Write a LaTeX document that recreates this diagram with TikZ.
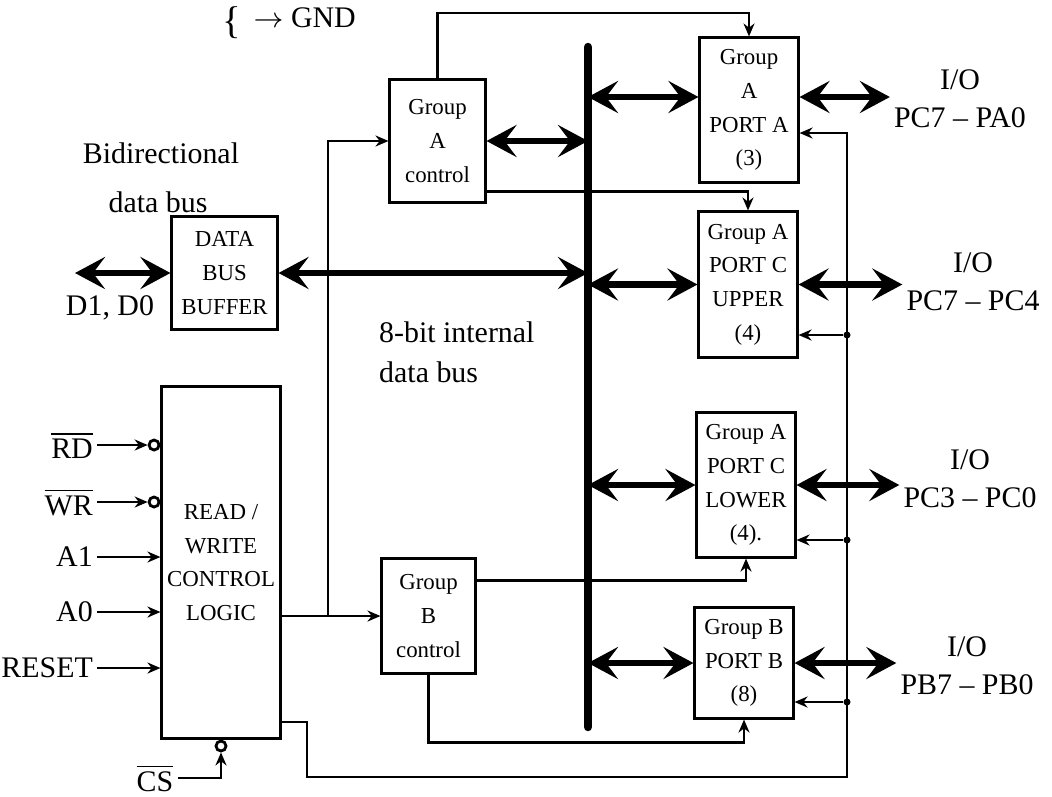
\documentclass[tikz,border=0pt]{standalone}
\usepackage{fontspec}
\setmainfont{Liberation Serif}
\usetikzlibrary{arrows.meta, positioning, calc}

\begin{document}
\begin{tikzpicture}[
    x=0.01cm, y=-0.01cm,
    every node/.style={font=\fontsize{8.5}{10.8}\selectfont},
    block/.style={rectangle, draw, line width=0.85pt, inner sep=0pt, align=center, font=\fontsize{6.5}{9.6}\selectfont},
    busarrow/.style={{Stealth[length=3mm, width=3.2mm, inset=1.2mm]}-{Stealth[length=3mm, width=3.2mm, inset=1.2mm]}, line width=1.8pt},
    arrow/.style={-{Stealth[length=1.3mm, width=1.1mm]}, line width=0.8pt},
    wire/.style={line width=0.8pt},
    bubble/.style={circle, draw, line width=0.8pt, fill=white, inner sep=0pt, minimum size=1mm},
    dot/.style={circle, fill, inner sep=0pt, minimum size=0.7mm},
    lbl/.style={inner sep=1pt, align=center}
]
\useasboundingbox (0,0) rectangle (1052,796);

\node[block, minimum width=1.05cm, minimum height=1.12cm] (dbb) at (224.5,273) {DATA\\BUS\\BUFFER};
\node[block, minimum width=1.18cm, minimum height=3.51cm] (rwcl) at (221,562.5) {READ /\\WRITE\\CONTROL\\LOGIC};
\node[block, minimum width=0.95cm, minimum height=1.22cm] (gac) at (437.5,141) {Group\\A\\control};
\node[block, minimum width=0.93cm, minimum height=1.14cm] (gbc) at (428.5,616) {Group\\B\\control};
\node[block, minimum width=0.98cm, minimum height=1.44cm] (pa) at (749,110) {Group\\A\\PORT A\\(3)};
\node[block, minimum width=0.98cm, minimum height=1.45cm] (pcu) at (748,284.5) {Group A\\PORT C\\UPPER\\(4)};
\node[block, minimum width=0.98cm, minimum height=1.44cm] (pcl) at (746,485) {Group A\\PORT C\\LOWER\\(4).};
\node[block, minimum width=0.98cm, minimum height=1.10cm] (pb) at (744,663) {Group B\\PORT B\\(8)};

\coordinate (bustop) at (588,47);
\coordinate (busbot) at (588,727);
\draw[line width=2.4pt, line cap=round] (bustop) -- (busbot);

\node[anchor=north, inner sep=0pt] (brace) at (232,6) {\fontsize{11}{11}\selectfont\{};
\node[lbl, anchor=base east] (gnd) at (360,27) {$\rightarrow$ GND};

\node[lbl] (bidir) at (161,153) {Bidirectional};
\node[lbl] (dbus) at (158,202) {data bus};
\node[lbl] (dlbl) at (110,308) {D1, D0};
\coordinate (dext) at (75,273);
\draw[busarrow] (dext) -- (dbb.west);
\draw[busarrow] (dbb.east) -- (dbb.east -| bustop);
\node[lbl, anchor=west, align=left, font=\fontsize{8.5}{11.4}\selectfont] (ibus) at (375,352) {8-bit internal\\data bus};

\node[lbl] (ioa) at (960,99) {I/O\\PC7 -- PA0};
\node[lbl] (iocu) at (973,281.5) {I/O\\PC7 -- PC4};
\node[lbl] (iocl) at (970,479) {I/O\\PC3 -- PC0};
\node[lbl] (iob) at (967,666) {I/O\\PB7 -- PB0};

\draw[busarrow] ([yshift=1.3mm]pa.west) -- ([yshift=1.3mm]pa.west -| bustop);
\draw[busarrow] ([yshift=1.3mm]pa.east) -- ([yshift=1.3mm]pa.east -| ioa.west);
\draw[busarrow] (pcu.west) -- (pcu.west -| bustop);
\draw[busarrow] (pcu.east) -- (pcu.east -| iocu.west);
\draw[busarrow] (pcl.west) -- (pcl.west -| bustop);
\draw[busarrow] (pcl.east) -- (pcl.east -| iocl.west);
\draw[busarrow] (pb.west) -- (pb.west -| bustop);
\draw[busarrow] (pb.east) -- (pb.east -| iob.west);
\draw[busarrow] (gac.east) -- (gac.east -| bustop);

\coordinate (topy) at (438,13);
\draw[arrow] (gac.north) -- (gac.north |- topy) -| (pa.north);
\draw[arrow] ([yshift=1.2mm]gac.south east) -| (pcu.north);
\draw[arrow] ([yshift=-2.3mm]gbc.north east) -| (pcl.south);
\draw[arrow] (gbc.south) -- ++(0,68) -| (pb.south);

\coordinate (ctlx) at (328,616);
\draw[arrow] (rwcl.east |- gbc.west) -- (gbc.west);
\draw[arrow] (ctlx) |- (gac.west);

\coordinate (fbtop) at (847,133);
\coordinate (fbbend) at (307,722);
\draw[arrow] (fbbend -| rwcl.east) -- (fbbend) -- ++(0,55) -| (fbtop) -- (fbtop -| pa.east);
\foreach \port/\yy in {pcu/335, pcl/540, pb/702} {
  \node[dot] (tap\port) at (847,\yy) {};
  \draw[arrow] (tap\port) -- (tap\port -| \port.east);
}

\foreach \txt/\yy/\nm in {{$\overline{\hbox{RD}}$}/445/rd, {$\overline{\hbox{WR}}$}/502/wr} {
  \node[lbl, anchor=east] (\nm) at (97,\yy) {\txt};
  \node[bubble, anchor=east] (\nm b) at (rwcl.west |- \nm) {};
  \draw[arrow] (\nm.east) -- (\nm b.west);
}
\foreach \txt/\yy/\nm in {A1/557/aone, A0/612/azero, RESET/668/reset} {
  \node[lbl, anchor=east] (\nm) at (97,\yy) {\txt};
  \draw[arrow] (\nm.east) -- (rwcl.west |- \nm);
}
\node[bubble, anchor=north] (csb) at (rwcl.south) {};
\node[lbl] (cs) at (155,778) {$\overline{\hbox{CS}}$};
\draw[arrow] (cs.east) -| (csb.south);
\end{tikzpicture}
\end{document}
